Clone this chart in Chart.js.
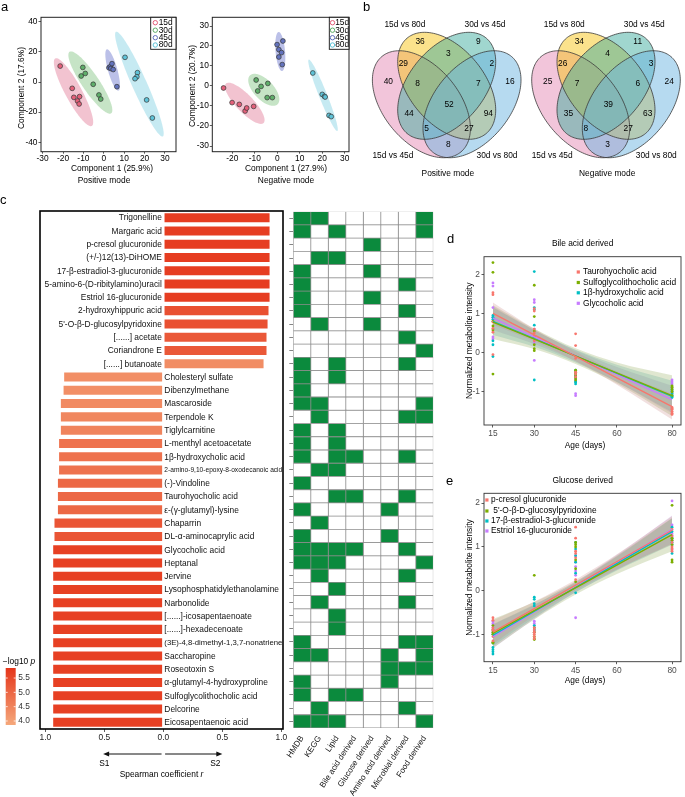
<!DOCTYPE html>
<html>
<head>
<meta charset="utf-8">
<title>Metabolomics figure</title>
<script src="https://cdn.jsdelivr.net/npm/chart.js@4.4.1/dist/chart.umd.min.js"></script>
<style>
  html, body { margin:0; padding:0; background:#fff; }
  #page { position:relative; width:685px; height:797px; overflow:hidden; background:#fff; }
  #page canvas { position:absolute; }
  .panel { position:absolute; font-family:"Liberation Sans", Arial, sans-serif; font-size:13px; line-height:13px; color:#000; }
</style>
</head>
<body>
<div id="page">
  <canvas id="aPos"></canvas>
  <canvas id="aNeg"></canvas>
  <canvas id="vennPos"></canvas>
  <canvas id="vennNeg"></canvas>
  <canvas id="bars"></canvas>
  <canvas id="heat"></canvas>
  <canvas id="trendD"></canvas>
  <canvas id="trendE"></canvas>
  <div class="panel" style="left:1px;top:0px">a</div>
  <div class="panel" style="left:363px;top:0px">b</div>
  <div class="panel" style="left:0px;top:193px">c</div>
  <div class="panel" style="left:447px;top:232px">d</div>
  <div class="panel" style="left:446px;top:474px">e</div>
</div>
<script>
// ======================= DATA =======================
// ---- Panel a: component scores by group ----
const GROUPS = ['15d', '30d', '45d', '80d'];
const POS_COMP1 = [
  [-21.4, -15.5, -14.7, -12.9, -11.9, -12.1],
  [-10.3, -9.1, -11.1, -5.2, -2.4, -1.5],
  [2.5, 3.2, 3.5, 4.0, 4.6, 6.4],
  [10.4, 16.5, 16.2, 15.3, 21.0, 23.8]
];
const POS_COMP2 = [
  [10.6, -4.2, -10.2, -12.6, -9.7, -14.6],
  [9.7, 5.7, 4.0, -1.5, -8.6, -11.3],
  [9.5, 10.2, 9.0, 12.2, 8.3, -3.1],
  [16.4, 6.2, 3.5, 2.2, -11.9, -23.9]
];
const NEG_COMP1 = [
  [-23.9, -20.1, -16.9, -14.3, -13.6, -10.5],
  [-9.4, -8.7, -7.2, -4.2, -4.5, -2.2],
  [-0.1, 0.7, 2.5, 1.9, 0.7, 2.2],
  [15.8, 20.0, 21.0, 21.3, 23.0, 24.0]
];
const NEG_COMP2 = [
  [-1.0, -8.3, -9.2, -12.5, -11.0, -10.2],
  [3.0, -2.5, -0.2, 1.3, -5.8, -5.8],
  [20.7, 18.2, 22.5, 16.7, 14.5, 10.7],
  [6.5, -4.2, -5.2, -5.5, -14.7, -15.3]
];
const POS_XTICKS = [-30, -20, -10, 0, 10, 20, 30];
const POS_YTICKS = [-40, -20, 0, 20, 40];
const NEG_XTICKS = [-20, -10, 0, 10, 20, 30];
const NEG_YTICKS = [-30, -20, -10, 0, 10, 20, 30];

// ---- Panel b: Venn counts (regions in VENN_REGIONS order; A=15d vs 45d, B=15d vs 80d, C=30d vs 45d, D=30d vs 80d) ----
const VENN_SETS = ['15d vs 45d', '15d vs 80d', '30d vs 45d', '30d vs 80d'];
const VENN_REGIONS = ['B', 'C', 'AB', 'BC', 'CD', 'A', 'ABC', 'BCD', 'D', 'ABCD', 'AC', 'BD', 'ACD', 'ABD', 'AD'];
const VENN_POSITIVE = [36, 9, 29, 3, 2, 40, 8, 7, 16, 52, 44, 94, 5, 27, 8];
const VENN_NEGATIVE = [34, 11, 26, 4, 3, 25, 7, 6, 24, 39, 35, 63, 8, 27, 3];

// ---- Panel c: metabolites, Spearman r, -log10 p ----
const METABOLITES = ['Trigonelline', 'Margaric acid', 'p-cresol glucuronide', '(+/-)12(13)-DiHOME',
  '17-β-estradiol-3-glucuronide', '5-amino-6-(D-ribitylamino)uracil', 'Estriol 16-glucuronide',
  '2-hydroxyhippuric acid', "5'-O-β-D-glucosylpyridoxine", '[......] acetate', 'Coriandrone E',
  '[......] butanoate', 'Cholesteryl sulfate', 'Dibenzylmethane', 'Mascaroside', 'Terpendole K',
  'Tiglylcarnitine', 'L-menthyl acetoacetate', '1β-hydroxycholic acid', '2-amino-9,10-epoxy-8-oxodecanoic acid',
  '(-)-Vindoline', 'Taurohyocholic acid', 'ε-(γ-glutamyl)-lysine', 'Chaparrin', 'DL-α-aminocaprylic acid',
  'Glycocholic acid', 'Heptanal', 'Jervine', 'Lysophosphatidylethanolamine', 'Narbonolide',
  '[......]-icosapentaenoate', '[......]-hexadecenoate', '(3E)-4,8-dimethyl-1,3,7-nonatriene', 'Saccharopine',
  'Roseotoxin S', 'α-glutamyl-4-hydroxyproline', 'Sulfoglycolithocholic acid', 'Delcorine', 'Eicosapentaenoic acid'];
const SPEARMAN_R = [0.907, 0.907, 0.907, 0.907, 0.907, 0.907, 0.907, 0.898, 0.89, 0.881, 0.881, 0.856,
  -0.847, -0.852, -0.875, -0.875, -0.875, -0.89, -0.89, -0.89, -0.90, -0.90, -0.90, -0.929, -0.929,
  -0.94, -0.94, -0.94, -0.94, -0.94, -0.94, -0.94, -0.94, -0.94, -0.94, -0.94, -0.94, -0.94, -0.94];
const NEG_LOG10_P = [5.71, 5.71, 5.71, 5.71, 5.71, 5.71, 5.71, 5.38, 5.38, 5.24, 5.24, 4.33,
  4.29, 4.29, 4.38, 4.43, 4.48, 4.79, 4.79, 4.79, 4.97, 4.97, 4.97, 5.29, 5.29,
  5.66, 5.66, 5.66, 5.66, 5.66, 5.66, 5.66, 5.66, 5.66, 5.66, 5.66, 5.66, 5.66, 5.66];
const R_TICKS = [-1, -0.5, 0, 0.5, 1];
const P_TICKS = [4.0, 4.5, 5.0, 5.5];
const P_RANGE = [3.86, 5.85];

const HEAT_COLUMNS = ['HMDB', 'KEGG', 'Lipid', 'Bile acid derived', 'Glucose derived', 'Amino acid derived', 'Microbial derived', 'Food derived'];
const HMDB      = [1,1,0,0,1,1,1,1,0,0, 0,1,1,1,1,0,1,1,1,0, 1,0,1,0,1,1,1,0,0,0, 0,0,1,1,0,1,1,0,1];
const KEGG      = [1,0,0,1,0,0,0,0,1,0, 0,0,0,0,1,1,0,0,0,1, 0,0,0,1,0,1,1,1,0,1, 0,0,0,1,0,0,0,1,1];
const LIPID     = [0,1,0,1,0,0,0,0,0,0, 0,1,1,0,0,0,1,1,1,1, 0,1,0,0,0,1,1,0,1,0, 1,1,0,0,0,0,1,0,1];
const BILE      = [0,0,0,0,0,0,0,0,0,0, 0,0,0,0,0,0,0,0,1,0, 0,1,0,0,0,1,0,0,0,0, 0,0,0,0,0,0,1,0,0];
const GLUCOSE   = [0,0,1,0,1,0,1,0,1,0, 0,0,0,0,0,0,0,0,0,0, 0,0,0,0,0,0,0,0,0,0, 0,0,0,0,0,0,0,0,0];
const AMINO     = [0,0,0,0,0,0,0,0,0,0, 0,0,0,0,0,0,0,0,0,0, 0,0,1,0,1,0,0,0,0,0, 0,0,0,1,1,1,0,0,0];
const MICROBIAL = [0,0,0,0,0,1,0,1,0,1, 0,1,0,0,0,1,0,0,1,0, 0,1,0,0,0,1,0,1,0,1, 0,0,1,0,1,0,0,1,0];
const FOOD      = [1,1,0,0,0,0,0,0,0,0, 1,0,0,0,1,1,0,0,0,0, 0,0,0,0,0,0,1,0,0,0, 0,0,1,1,1,0,0,0,1];

// ---- Panels d, e: normalized intensity by age ----
const AGES = [15, 30, 45, 80];
const AGE_TICKS = [15, 30, 45, 60, 80];
const INTENSITY_TICKS = [-1, 0, 1, 2];
const FIT_AGES = [15, 80];
const BAND_AGES = [15, 30, 45, 60, 80];

const BILE_NAMES = ['Taurohyocholic acid', 'Sulfoglycolithocholic acid', '1β-hydroxycholic acid', 'Glycocholic acid'];
const BILE_TAUROHYOCHOLIC = [[1.53, 1.48, 0.78, 0.62, 0.52, -0.05], [1.12, 1.06, 0.6, 0.5, 0.42, 0.3], [0.48, 0.18, -0.15, -0.5, -0.55, -0.62], [-1.4, -1.45, -1.5, -1.55, -1.58, -1.43]];
const BILE_SULFOGLYCOLITHOCHOLIC = [[2.3, 2.05, 0.8, 0.68, 0.58, -0.55], [1.72, 0.92, 0.2, 0.1, 0.05, 0.55], [-0.5, -0.6, -0.7, -0.45, -0.55, -0.65], [-0.85, -0.95, -0.9, -1.0, -0.88, -1.1]];
const BILE_HYDROXYCHOLIC = [[0.95, 0.9, 0.85, 0.3, 0.2, -0.1], [2.07, 1.15, 1.1, 0.7, 0.4, -0.7], [-0.45, -0.55, -0.75, -0.8, -0.75, -0.6], [-1.0, -1.15, -1.1, -1.05, -0.95, -1.12]];
const BILE_GLYCOCHOLIC = [[1.78, 1.7, 1.15, 0.4, 0.35, 0.9], [1.35, 1.28, 0.6, 0.3, -0.2, 0.25], [-0.6, -0.65, -1.05, -1.1, -0.7, -0.5], [-0.7, -0.75, -0.9, -1.05, -0.8, -1.0]];
const BILE_FIT = [[1.0, -1.38], [0.78, -1.1], [0.8, -1.12], [0.88, -1.2]];
const BILE_UPPER = [[1.28, 0.61, 0.02, -0.48, -1.05], [1.21, 0.61, 0.11, -0.25, -0.58], [1.15, 0.57, 0.07, -0.31, -0.72], [1.18, 0.58, 0.06, -0.37, -0.85]];
const BILE_LOWER = [[0.72, 0.29, -0.22, -0.82, -1.71], [0.35, 0.09, -0.29, -0.79, -1.62], [0.45, 0.15, -0.25, -0.75, -1.52], [0.58, 0.22, -0.22, -0.75, -1.55]];

const GLUC_NAMES = ['p-cresol glucuronide', " 5'-O-β-D-glucosylpyridoxine", '17-β-estradiol-3-glucuronide', 'Estriol 16-glucuronide'];
const GLUC_PCRESOL = [[-0.62, -0.68, -0.9, -1.05, -1.15, -0.85], [-1.0, -1.1, -0.95, -0.85, -1.05, -0.9], [1.45, 1.2, 0.9, 0.85, 0.25, 0.75], [1.4, 1.0, 0.9, 0.95, 1.25, 1.1]];
const GLUC_PYRIDOXINE = [[-1.2, -0.95, -1.0, -0.9, -1.18, -0.8], [0.35, -1.05, -1.1, -1.12, -0.95, -0.85], [1.1, 1.05, 1.0, 0.5, 0.2, 0.7], [1.95, 0.7, 0.65, 1.05, 1.15, 1.2]];
const GLUC_ESTRADIOL = [[-1.0, -1.2, -1.3, -1.35, -1.4, -1.45], [-0.15, -0.2, -0.3, -0.35, -0.8, -0.9], [0.95, 0.8, 0.4, -0.05, 1.1, 0.65], [1.45, 1.2, 1.1, 1.05, 0.85, 1.35]];
const GLUC_ESTRIOL = [[-0.75, -0.8, -0.85, -0.95, -0.9, -0.7], [-0.75, -0.8, -0.85, -0.9, -0.95, -0.7], [0.65, 0.35, -0.62, 0.45, 0.8, 0.55], [2.05, 0.95, 1.3, 1.25, 1.5, 1.15]];
const GLUC_FIT = [[-0.95, 1.38], [-0.98, 1.28], [-1.02, 1.35], [-1.05, 1.40]];
const GLUC_UPPER = [[-0.68, -0.25, 0.25, 0.83, 1.70], [-0.65, -0.26, 0.21, 0.80, 1.66], [-0.77, -0.32, 0.18, 0.78, 1.65], [-0.78, -0.33, 0.20, 0.82, 1.72]];
const GLUC_LOWER = [[-1.22, -0.57, 0.01, 0.49, 1.06], [-1.31, -0.66, -0.09, 0.38, 0.90], [-1.27, -0.62, -0.04, 0.46, 1.05], [-1.32, -0.65, -0.04, 0.48, 1.08]];

// ======================= STYLE / GEOMETRY =======================
const GROUP_FILL = ['#E4607A', '#5FAE6A', '#6373BE', '#5EC3D8'];
const GROUP_ELLIPSE = ['rgba(224,112,144,0.42)', 'rgba(120,190,120,0.42)', 'rgba(105,115,205,0.45)', 'rgba(120,205,225,0.42)'];
// confidence ellipses: [centre x, centre y, semi-axis 1 (dx,dy), semi-axis 2 (dx,dy)] in score units
const POS_ELLIPSES = [[-14.85, -6.75, 8.95, -22.45, 3.6, 2.6], [-6.6, -0.35, 10.2, -20.45, 3.5, 3.2], [4.35, 8.0, 2.85, -13.7, 2.2, 0.84], [17.45, -1.4, 11.45, -34.8, 3.3, 2.0]];
const NEG_ELLIPSES = [[-14.45, -8.65, 8.35, -9.85, 2.8, 3.0], [-6.0, -1.9, 6.1, -7.25, 3.25, 3.4], [1.35, 17.25, 0.75, -9.75, 2.1, 0.2], [20.35, -4.65, 6.35, -17.85, 1.67, 0.74]];
// Venn layout in unit coordinates: [cx, cy, semi-major, semi-minor, angle]
const VENN_SHAPES = [[0.35, 0.47, 0.35, 0.215, -45], [0.5, 0.57, 0.35, 0.215, -45], [0.5, 0.57, 0.35, 0.215, 45], [0.65, 0.47, 0.35, 0.215, 45]];
const VENN_FILLS = ['rgba(229,140,182,0.5)', 'rgba(247,197,25,0.5)', 'rgba(65,173,159,0.5)', 'rgba(109,181,225,0.5)'];
const VENN_LABEL_POS = [[0.342, 0.81], [0.688, 0.81], [0.243, 0.692], [0.51, 0.747], [0.767, 0.692], [0.154, 0.593], [0.328, 0.584], [0.688, 0.584], [0.875, 0.593], [0.514, 0.466], [0.277, 0.42], [0.747, 0.42], [0.381, 0.339], [0.632, 0.339], [0.51, 0.248]];
const VENN_SET_POS = [[0.181, 0.189], [0.2525, 0.90], [0.727, 0.90], [0.798, 0.189]];
const VENN_MODE_POS = [0.507, 0.091];
const COLOR_LOW = [245, 168, 123], COLOR_HIGH = [229, 53, 26];
const HEAT_ON = '#0B8A3D';
const TREND_COLORS = ['#F8766D', '#7CAE00', '#00BFC4', '#C77CFF'];

// ======================= FONTS =======================
function hasFont(name) {
  const c = document.createElement('canvas').getContext('2d');
  const s = 'Lysophosphatidylethanolamine 0123';
  c.font = '20px monospace'; const a = c.measureText(s).width;
  c.font = '20px "' + name + '", monospace'; const b = c.measureText(s).width;
  return Math.abs(a - b) > 0.5;
}
const NARROW = hasFont('Liberation Sans Narrow');
const FAM = NARROW ? '"Liberation Sans Narrow", "Liberation Sans", Arial, sans-serif' : '"Liberation Sans", Arial, sans-serif';
const K = NARROW ? 1.2 : 1.0;
const F = px => +(px * K).toFixed(2);
Chart.defaults.font.family = FAM;
Chart.defaults.font.size = F(8.4);
Chart.defaults.color = '#222';

// ======================= HELPERS =======================
function place(id, cv) {
  const c = document.getElementById(id);
  c.width = cv[2]; c.height = cv[3];
  Object.assign(c.style, { left: cv[0] + 'px', top: cv[1] + 'px', width: cv[2] + 'px', height: cv[3] + 'px' });
  return c;
}
function baseOptions(cv, box, hideX, hideY) {
  const [cx, cy, cw, ch] = cv, [L, T, R, B] = box;
  return {
    responsive: false, maintainAspectRatio: false, animation: false, devicePixelRatio: 1, events: [],
    layout: { padding: { left: hideY ? L - cx : 0, top: T - cy, right: cx + cw - R, bottom: hideX ? cy + ch - B : 0 } },
    plugins: { legend: { display: false }, tooltip: { enabled: false }, title: { display: false } }
  };
}
function linAxis(min, max, ticks, fmt, fit, st) {
  st = st || {};
  return {
    type: 'linear', min, max,
    afterBuildTicks: s => { s.ticks = ticks.map(v => ({ value: v })); },
    afterFit: fit,
    ticks: { autoSkip: false, maxRotation: 0, padding: st.pad == null ? 2 : st.pad, color: st.color || '#222',
      font: { size: F(8.4), family: FAM }, callback: fmt || (v => String(v)) },
    grid: { display: true, drawOnChartArea: false, drawTicks: true, tickLength: st.len == null ? 3 : st.len, color: '#333', lineWidth: 0.8 },
    border: { display: false }
  };
}
function drawText(ctx, it, ox, oy) {
  ctx.save();
  ctx.translate(it.x - ox, it.y - oy);
  if (it.rot) ctx.rotate(it.rot * Math.PI / 180);
  ctx.textBaseline = 'middle';
  const size = F(it.size || 8.4);
  const parts = it.parts || [{ t: it.t, i: !!it.italic }];
  const fonts = parts.map(p => (p.i ? 'italic ' : '') + size + 'px ' + FAM);
  let total = 0;
  const ws = parts.map((p, k) => { ctx.font = fonts[k]; const w = ctx.measureText(p.t).width; total += w; return w; });
  let x = it.align === 'left' ? 0 : it.align === 'right' ? -total : -total / 2;
  ctx.fillStyle = it.color || '#000';
  ctx.textAlign = 'left';
  parts.forEach((p, k) => { ctx.font = fonts[k]; ctx.fillText(p.t, x, 0); x += ws[k]; });
  ctx.restore();
}
function textsPlugin(items, rects) {
  return { id: 'texts', afterDraw(chart) {
    const ctx = chart.ctx, ox = chart.canvas.offsetLeft, oy = chart.canvas.offsetTop;
    (rects || []).forEach(r => { ctx.fillStyle = r.c; ctx.fillRect(r.x - ox, r.y - oy, r.w, r.h); });
    (items || []).forEach(it => drawText(ctx, it, ox, oy));
  } };
}
function framePlugin(color, width) {
  return { id: 'frame', afterDatasetsDraw(chart) {
    const { ctx, chartArea: a } = chart;
    ctx.save(); ctx.strokeStyle = color; ctx.lineWidth = width;
    ctx.strokeRect(a.left, a.top, a.right - a.left, a.bottom - a.top);
    ctx.restore();
  } };
}
function ellipsePlugin(list, colors) {
  return { id: 'ellipses', beforeDatasetsDraw(chart) {
    const { ctx, chartArea: a, scales: { x, y } } = chart;
    ctx.save(); ctx.beginPath(); ctx.rect(a.left, a.top, a.right - a.left, a.bottom - a.top); ctx.clip();
    list.forEach((e, i) => {
      ctx.beginPath();
      for (let k = 0; k <= 120; k++) {
        const t = k / 120 * 2 * Math.PI;
        const px = x.getPixelForValue(e[0] + e[2] * Math.cos(t) + e[4] * Math.sin(t));
        const py = y.getPixelForValue(e[1] + e[3] * Math.cos(t) + e[5] * Math.sin(t));
        if (k) ctx.lineTo(px, py); else ctx.moveTo(px, py);
      }
      ctx.closePath(); ctx.fillStyle = colors[i]; ctx.fill();
    });
    ctx.restore();
  } };
}
function scoreLegendPlugin(bx) {
  return { id: 'scoreLegend', afterDraw(chart) {
    const ctx = chart.ctx, ox = chart.canvas.offsetLeft, oy = chart.canvas.offsetTop;
    ctx.save();
    ctx.fillStyle = '#fff';
    ctx.fillRect(bx.x0 - ox, bx.y0 - oy, bx.x1 - bx.x0, bx.y1 - bx.y0);
    ctx.strokeStyle = '#111'; ctx.lineWidth = 0.9;
    ctx.strokeRect(bx.x0 - ox, bx.y0 - oy, bx.x1 - bx.x0, bx.y1 - bx.y0);
    GROUPS.forEach((g, k) => {
      const yy = bx.ys[k] - oy;
      ctx.beginPath(); ctx.arc(bx.cx - ox, yy, 2.2, 0, 2 * Math.PI);
      ctx.strokeStyle = GROUP_FILL[k]; ctx.lineWidth = 1; ctx.stroke();
      ctx.fillStyle = '#000'; ctx.font = F(8.4) + 'px ' + FAM; ctx.textAlign = 'left'; ctx.textBaseline = 'middle';
      ctx.fillText(g, bx.tx - ox, yy);
    });
    ctx.restore();
  } };
}
function mixBand(hex, a) {
  const n = parseInt(hex.slice(1), 16);
  const c = [n >> 16 & 255, n >> 8 & 255, n & 255].map(v => Math.round(v * 0.5 + 150 * 0.5));
  return 'rgba(' + c.join(',') + ',' + a + ')';
}
function pColor(v) {
  const t = Math.max(0, Math.min(1, (v - P_RANGE[0]) / (P_RANGE[1] - P_RANGE[0])));
  const c = COLOR_LOW.map((l, i) => Math.round(l + (COLOR_HIGH[i] - l) * t));
  return 'rgb(' + c.join(',') + ')';
}

// ======================= PANEL a =======================
function scoreChart(id, cv, box, xr, yr, xt, yt, C1, C2, ELL, legendBox, labels) {
  const canvas = place(id, cv);
  const o = baseOptions(cv, box);
  o.scales = {
    x: linAxis(xr[0], xr[1], xt, null, s => { s.height = cv[1] + cv[3] - box[3]; }, { len: 2, pad: 0, color: '#000' }),
    y: linAxis(yr[0], yr[1], yt, null, s => { s.width = box[0] - cv[0]; }, { len: 2.5, pad: 1, color: '#000' })
  };
  return new Chart(canvas, {
    type: 'scatter',
    data: { datasets: GROUPS.map((g, k) => ({
      label: g, data: C1[k].map((x, i) => ({ x, y: C2[k][i] })),
      pointRadius: 2.4, pointBorderWidth: 0.7, pointBackgroundColor: GROUP_FILL[k], pointBorderColor: '#333'
    })) },
    options: o,
    plugins: [ellipsePlugin(ELL, GROUP_ELLIPSE), framePlugin('#222', 1), scoreLegendPlugin(legendBox), textsPlugin(labels)]
  });
}
scoreChart('aPos', [0, 8, 185, 182], [41, 17.3, 176, 151.7], [-30.8, 35.4], [-46.3, 43], POS_XTICKS, POS_YTICKS,
  POS_COMP1, POS_COMP2, POS_ELLIPSES,
  { x0: 150.7, y0: 17.3, x1: 176, y1: 49.3, ys: [22.7, 30.2, 37.7, 45], cx: 155.3, tx: 158.7 },
  [{ t: 'Component 2 (17.6%)', x: 21.7, y: 88, rot: -90 },
   { t: 'Component 1 (25.9%)', x: 112, y: 168.3 },
   { t: 'Positive mode', x: 104, y: 180.5 }]);
scoreChart('aNeg', [185, 8, 170, 182], [212.3, 17.3, 349, 151.7], [-28.9, 31.9], [-32.85, 34.35], NEG_XTICKS, NEG_YTICKS,
  NEG_COMP1, NEG_COMP2, NEG_ELLIPSES,
  { x0: 329.3, y0: 17.3, x1: 349, y1: 49.3, ys: [22.7, 30.2, 37.7, 45], cx: 332.5, tx: 335.2 },
  [{ t: 'Component 2 (20.7%)', x: 192.8, y: 86, rot: -90 },
   { t: 'Component 1 (27.9%)', x: 286, y: 168.3 },
   { t: 'Negative mode', x: 286, y: 180.5 }]);

// ======================= PANEL b =======================
function vennPlugin(modeLabel) {
  const shapePath = (ctx, e, x, y) => {
    const th = e[4] * Math.PI / 180, ux = Math.cos(th), uy = Math.sin(th), vx = -uy, vy = ux;
    ctx.beginPath();
    for (let k = 0; k <= 160; k++) {
      const t = k / 160 * 2 * Math.PI;
      const px = x.getPixelForValue(e[0] + e[2] * Math.cos(t) * ux + e[3] * Math.sin(t) * vx);
      const py = y.getPixelForValue(e[1] + e[2] * Math.cos(t) * uy + e[3] * Math.sin(t) * vy);
      if (k) ctx.lineTo(px, py); else ctx.moveTo(px, py);
    }
    ctx.closePath();
  };
  return { id: 'venn',
    beforeDatasetsDraw(chart) {
      const { ctx, scales: { x, y } } = chart;
      ctx.save();
      VENN_SHAPES.forEach((e, k) => { shapePath(ctx, e, x, y); ctx.fillStyle = VENN_FILLS[k]; ctx.fill(); });
      VENN_SHAPES.forEach(e => { shapePath(ctx, e, x, y); ctx.strokeStyle = '#3a3a3a'; ctx.lineWidth = 0.8; ctx.stroke(); });
      ctx.restore();
    },
    afterDatasetsDraw(chart) {
      const { ctx, scales: { x, y } } = chart;
      const meta = chart.getDatasetMeta(0);
      const counts = chart.data.datasets[0].counts;
      meta.data.forEach((pt, i) => drawText(ctx, { t: String(counts[i]), x: pt.x, y: pt.y }, 0, 0));
      VENN_SETS.forEach((s, k) => drawText(ctx, { t: s, x: x.getPixelForValue(VENN_SET_POS[k][0]), y: y.getPixelForValue(VENN_SET_POS[k][1]) }, 0, 0));
      drawText(ctx, { t: modeLabel, x: x.getPixelForValue(VENN_MODE_POS[0]), y: y.getPixelForValue(VENN_MODE_POS[1]) }, 0, 0);
    } };
}
function vennChart(id, cv, xr, yr, counts, modeLabel) {
  const canvas = place(id, cv);
  const o = baseOptions(cv, [cv[0], cv[1], cv[0] + cv[2], cv[1] + cv[3]], true, true);
  o.scales = { x: { type: 'linear', min: xr[0], max: xr[1], display: false }, y: { type: 'linear', min: yr[0], max: yr[1], display: false } };
  return new Chart(canvas, {
    type: 'scatter',
    data: { datasets: [{ counts, data: VENN_LABEL_POS.map(p => ({ x: p[0], y: p[1] })), pointRadius: 0 }] },
    options: o,
    plugins: [vennPlugin(modeLabel)]
  });
}
vennChart('vennPos', [358, 12, 166, 170], [-0.0258, 0.9582], [0.0478, 0.9707], VENN_POSITIVE, 'Positive mode');
vennChart('vennNeg', [524, 12, 161, 170], [0.0139, 0.9683], [0.0478, 0.9707], VENN_NEGATIVE, 'Negative mode');

// ======================= PANEL c (bars) =======================
const barCv = [0, 195, 292, 602], barBox = [40, 211, 283, 729];
const barDecor = {
  id: 'barDecor',
  afterDatasetsDraw(chart) {
    const { ctx, chartArea: a, scales: { x, y } } = chart;
    const x0 = x.getPixelForValue(0);
    ctx.save(); ctx.fillStyle = '#111'; ctx.textBaseline = 'middle';
    METABOLITES.forEach((name, i) => {
      const yy = y.getPixelForValue(i);
      const pos = SPEARMAN_R[i] > 0;
      const maxW = pos ? x0 - 2 - a.left : a.right - x0 - 2;
      let size = F(8.4);
      ctx.font = size + 'px ' + FAM;
      const w = ctx.measureText(name).width;
      if (w > maxW) { size = size * maxW / w; ctx.font = size.toFixed(2) + 'px ' + FAM; }
      ctx.textAlign = pos ? 'right' : 'left';
      ctx.fillText(name, pos ? x0 - 1.5 : x0 + 1, yy + 0.5);
    });
    ctx.restore();
  },
  afterDraw(chart) {
    const { ctx, chartArea: a, scales: { x } } = chart;
    const ox = chart.canvas.offsetLeft, oy = chart.canvas.offsetTop;
    const ay = 754 - oy;
    const arrow = (from, to) => {
      const x1 = x.getPixelForValue(from), x2 = x.getPixelForValue(to), d = Math.sign(x2 - x1);
      ctx.beginPath(); ctx.moveTo(x1, ay); ctx.lineTo(x2 - d * 4, ay); ctx.strokeStyle = '#111'; ctx.lineWidth = 1; ctx.stroke();
      ctx.beginPath(); ctx.moveTo(x2, ay); ctx.lineTo(x2 - d * 6, ay - 2.6); ctx.lineTo(x2 - d * 6, ay + 2.6); ctx.closePath(); ctx.fillStyle = '#111'; ctx.fill();
    };
    ctx.save();
    arrow(-0.015, -0.51); arrow(0.015, 0.5);
    drawText(ctx, { t: 'S1', x: x.getPixelForValue(-0.5), y: 764 - oy }, 0, 0);
    drawText(ctx, { t: 'S2', x: x.getPixelForValue(0.44), y: 764 - oy }, 0, 0);
    drawText(ctx, { parts: [{ t: 'Spearman coefficient ' }, { t: 'r', i: true }], x: (a.left + a.right) / 2, y: 775 - oy }, 0, 0);
    const cb = [5.7 - ox, 668 - oy, 15.7 - ox, 725 - oy];
    const g = ctx.createLinearGradient(0, cb[3], 0, cb[1]);
    g.addColorStop(0, pColor(P_RANGE[0])); g.addColorStop(1, pColor(P_RANGE[1]));
    ctx.fillStyle = g; ctx.fillRect(cb[0], cb[1], cb[2] - cb[0], cb[3] - cb[1]);
    P_TICKS.forEach(v => {
      const yy = cb[3] - (v - P_RANGE[0]) / (P_RANGE[1] - P_RANGE[0]) * (cb[3] - cb[1]);
      ctx.strokeStyle = '#fff'; ctx.lineWidth = 0.8;
      ctx.beginPath(); ctx.moveTo(cb[0], yy); ctx.lineTo(cb[0] + 2, yy); ctx.moveTo(cb[2] - 2, yy); ctx.lineTo(cb[2], yy); ctx.stroke();
      drawText(ctx, { t: v.toFixed(1), x: cb[2] + 2.5, y: yy, align: 'left', color: '#333' }, 0, 0);
    });
    drawText(ctx, { parts: [{ t: '\u2212log10 ' }, { t: 'p', i: true }], x: 19 - ox, y: 662 - oy }, 0, 0);
    ctx.restore();
  }
};
(function () {
  const canvas = place('bars', barCv);
  const o = baseOptions(barCv, barBox, false, true);
  o.indexAxis = 'y';
  o.scales = {
    x: linAxis(-1.045, 1.014, R_TICKS, v => Math.abs(v).toFixed(1), s => { s.height = barCv[1] + barCv[3] - barBox[3]; }, { len: 3, pad: 1, color: '#222' }),
    y: { type: 'category', display: false, offset: true }
  };
  new Chart(canvas, {
    type: 'bar',
    data: { labels: METABOLITES, datasets: [{
      data: SPEARMAN_R, backgroundColor: NEG_LOG10_P.map(pColor),
      borderColor: 'rgba(255,255,255,0.55)', borderWidth: 0.8, borderSkipped: false,
      barPercentage: 0.8, categoryPercentage: 1
    }] },
    options: o,
    plugins: [barDecor, framePlugin('#000', 1.6)]
  });
})();

// ======================= PANEL c (annotation grid) =======================
(function () {
  const cv = [280, 200, 160, 597], box = [293.3, 211.7, 433.3, 728];
  const canvas = place('heat', cv);
  const o = baseOptions(cv, box);
  o.indexAxis = 'y';
  o.datasets = { bar: { grouped: false } };
  o.scales = {
    x: { type: 'linear', min: 0, max: 8, position: 'bottom',
      afterBuildTicks: s => { s.ticks = HEAT_COLUMNS.map((c, j) => ({ value: j + 0.5 })); },
      afterFit: s => { s.height = cv[1] + cv[3] - box[3]; },
      ticks: { autoSkip: false, minRotation: 57, maxRotation: 57, padding: -2, color: '#111', font: { size: F(8.2), family: FAM },
        callback: (v, i) => HEAT_COLUMNS[i] },
      grid: { display: false }, border: { display: false } },
    y: { type: 'category', offset: true,
      afterFit: s => { s.width = box[0] - cv[0]; },
      ticks: { display: false },
      grid: { display: true, drawOnChartArea: false, offset: false, drawTicks: true, tickLength: 4, color: '#666', lineWidth: 0.8 },
      border: { display: false } }
  };
  const HEAT = [HMDB, KEGG, LIPID, BILE, GLUCOSE, AMINO, MICROBIAL, FOOD];
  new Chart(canvas, {
    type: 'bar',
    data: { labels: METABOLITES, datasets: HEAT.map((col, j) => ({
      label: HEAT_COLUMNS[j],
      data: col.map(() => [j, j + 1]),
      backgroundColor: col.map(v => v ? HEAT_ON : '#ffffff'),
      borderColor: '#8e8e8e', borderWidth: 0.75, borderSkipped: false,
      barPercentage: 1, categoryPercentage: 1
    })) },
    options: o
  });
})();

// ======================= PANELS d, e =======================
function trendChart(id, cv, box, yr, names, series, fit, upper, lower, title, legend, yTitleY, xTitleY) {
  const canvas = place(id, cv);
  const o = baseOptions(cv, box);
  o.scales = {
    x: linAxis(11.75, 83.25, AGE_TICKS, null, s => { s.height = cv[1] + cv[3] - box[3]; }, { len: 2.5, pad: 1, color: '#4d4d4d' }),
    y: linAxis(yr[0], yr[1], INTENSITY_TICKS, null, s => { s.width = box[0] - cv[0]; }, { len: 2.5, pad: 1.5, color: '#4d4d4d' })
  };
  const ds = [];
  names.forEach((n, s) => {
    const col = TREND_COLORS[s];
    ds.push({ type: 'line', data: BAND_AGES.map((x, k) => ({ x, y: lower[s][k] })), borderWidth: 0, borderColor: 'transparent',
      pointRadius: 0, fill: false, cubicInterpolationMode: 'monotone', order: 3 });
    ds.push({ type: 'line', data: BAND_AGES.map((x, k) => ({ x, y: upper[s][k] })), borderWidth: 0, borderColor: 'transparent',
      pointRadius: 0, fill: '-1', backgroundColor: mixBand(col, 0.26), cubicInterpolationMode: 'monotone', order: 3 });
  });
  names.forEach((n, s) => {
    const pts = [];
    AGES.forEach((a, k) => series[s][k].forEach(v => pts.push({ x: a, y: v })));
    ds.push({ type: 'scatter', label: n, data: pts, pointRadius: 1.4, pointBorderWidth: 0, pointBackgroundColor: TREND_COLORS[s], order: 2 });
  });
  names.forEach((n, s) => {
    ds.push({ type: 'line', data: FIT_AGES.map((x, k) => ({ x, y: fit[s][k] })), borderColor: TREND_COLORS[s], borderWidth: 1.4,
      pointRadius: 0, fill: false, order: 1 });
  });
  const cx = (box[0] + box[2]) / 2;
  const items = [
    { t: title, x: cx, y: box[1] - 12.7 },
    { t: 'Normalized metabolite intensity', x: 469.5, y: yTitleY, rot: -90 },
    { t: 'Age (days)', x: 585, y: xTitleY }
  ];
  const rects = [];
  names.forEach((n, s) => {
    items.push({ t: n, x: legend.tx, y: legend.ys[s], align: 'left' });
    rects.push({ x: legend.mx - 1.6, y: legend.ys[s] - 1.6, w: 3.2, h: 3.2, c: TREND_COLORS[s] });
  });
  return new Chart(canvas, { type: 'scatter', data: { datasets: ds }, options: o,
    plugins: [framePlugin('#333', 0.9), textsPlugin(items, rects)] });
}
trendChart('trendD', [458, 234, 227, 218], [484, 256.7, 681.3, 425], [-1.85, 2.45], BILE_NAMES,
  [BILE_TAUROHYOCHOLIC, BILE_SULFOGLYCOLITHOCHOLIC, BILE_HYDROXYCHOLIC, BILE_GLYCOCHOLIC],
  BILE_FIT, BILE_UPPER, BILE_LOWER, 'Bile acid derived',
  { mx: 578.3, tx: 583, ys: [272, 282.5, 292.8, 303.3] }, 340.8, 446);
trendChart('trendE', [458, 470, 227, 222], [484, 493.3, 681.3, 661.7], [-1.625, 2.225], GLUC_NAMES,
  [GLUC_PCRESOL, GLUC_PYRIDOXINE, GLUC_ESTRADIOL, GLUC_ESTRIOL],
  GLUC_FIT, GLUC_UPPER, GLUC_LOWER, 'Glucose derived',
  { mx: 486.9, tx: 491, ys: [500, 511, 521, 531] }, 577.5, 680.7);
</script>
</body>
</html>
